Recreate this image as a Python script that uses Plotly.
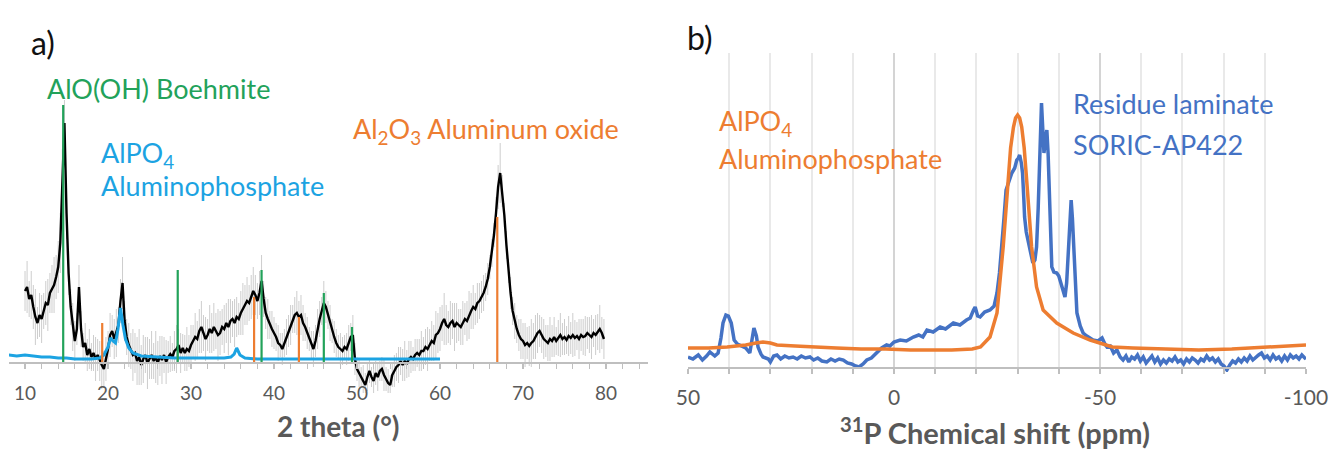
import plotly.graph_objects as go

# ---------------- Panel a) XRD (sampled every 0.25 deg from 10 deg) ----------------
XRD_START, XRD_STEP = 10.0, 0.25
xrd_intensity = [
    72, 76, 64, 68, 56, 46, 40, 48, 44, 52,
    60, 58, 70, 74, 78, 86, 96, 120, 180, 240,
    150, 90, 56, 36, 22, 34, 76, 34, 16, 20,
    8, 14, 6, 10, 4, 8, 2, -2, -6, 4,
    14, 28, 32, 24, 30, 38, 62, 80, 42, 26,
    18, 12, 8, 10, 2, 6, -2, 4, 8, 0,
    4, 8, 2, 6, 0, 7, 3, 8, 1, 6,
    9, 6, 12, 14, 18, 10, 15, 10, 14, 12,
    18, 22, 26, 24, 32, 36, 30, 24, 28, 34,
    30, 36, 32, 28, 30, 36, 34, 40, 36, 42,
    44, 40, 46, 44, 50, 54, 58, 62, 60, 66,
    72, 68, 62, 70, 82, 64, 50, 44, 38, 34,
    30, 26, 20, 18, 14, 20, 26, 32, 38, 44,
    48, 50, 46, 48, 40, 36, 30, 24, 18, 14,
    22, 34, 44, 52, 60, 56, 48, 40, 32, 26,
    20, 16, 14, 12, 16, 14, 20, 26, 28, 4,
    -6, -10, -14, -18, -22, -14, -8, -14, -18, -10,
    -14, -8, -6, -12, -16, -20, -22, -12, -8, -4,
    -2, 2, -2, 2, -1, 4, 6, 4, 8, 10,
    8, 12, 12, 16, 14, 18, 22, 20, 28, 30,
    34, 40, 44, 38, 36, 40, 42, 36, 40, 38,
    36, 40, 44, 42, 48, 52, 56, 54, 60, 62,
    66, 70, 76, 84, 96, 110, 128, 150, 176, 190,
    172, 148, 118, 92, 70, 52, 42, 34, 28, 24,
    22, 18, 20, 17, 20, 22, 26, 30, 32, 28,
    24, 22, 20, 24, 22, 26, 22, 25, 28, 24,
    26, 23, 27, 25, 28, 25, 27, 24, 28, 26,
    27, 30, 28, 26, 30, 28, 31, 34, 30, 24]
xrd_error = [
    20, 26, 18, 24, 22, 28, 16, 22, 24, 18,
    22, 26, 20, 24, 28, 22, 26, 30, 34, 28,
    26, 22, 18, 24, 20, 16, 22, 18, 14, 20,
    16, 20, 14, 18, 22, 16, 20, 24, 18, 22,
    18, 22, 16, 20, 24, 18, 22, 26, 20, 18,
    22, 18, 26, 20, 24, 28, 20, 24, 18, 26,
    20, 24, 18, 26, 22, 20, 24, 18, 22, 16,
    18, 14, 20, 24, 16, 20, 14, 18, 22, 16,
    20, 16, 24, 18, 22, 26, 18, 22, 16, 24,
    20, 24, 18, 26, 22, 18, 24, 20, 28, 22,
    18, 24, 20, 16, 22, 26, 20, 24, 18, 22,
    24, 20, 18, 22, 26, 18, 16, 20, 14, 18,
    16, 14, 18, 12, 16, 14, 18, 16, 20, 14,
    18, 22, 16, 20, 18, 14, 16, 12, 14, 18,
    16, 20, 18, 14, 22, 16, 14, 18, 12, 16,
    14, 12, 16, 14, 12, 16, 18, 14, 20, 16,
    12, 14, 10, 16, 12, 14, 12, 10, 14, 12,
    14, 10, 12, 16, 12, 14, 10, 12, 16, 14,
    18, 14, 16, 20, 14, 18, 16, 12, 16, 14,
    16, 20, 14, 18, 22, 16, 20, 18, 24, 20,
    22, 18, 26, 20, 16, 22, 18, 24, 20, 16,
    18, 22, 16, 20, 24, 18, 22, 16, 20, 18,
    16, 18, 14, 16, 12, 14, 12, 16, 22, 30,
    16, 12, 14, 12, 16, 14, 18, 14, 16, 20,
    18, 22, 16, 20, 24, 18, 22, 20, 16, 18,
    20, 16, 18, 22, 16, 20, 14, 18, 22, 16,
    18, 14, 20, 16, 22, 18, 14, 20, 16, 18,
    20, 16, 18, 22, 14, 20, 18, 24, 16, 20]

alpo4_xrd_2theta = [8, 9, 10, 11, 12, 13, 14, 15, 16, 17,
                    18, 19, 19.5, 20, 20.3, 20.6, 20.9, 21.2, 21.5, 21.8,
                    22.1, 22.5, 23, 24, 26, 28, 30, 32, 34, 34.8,
                    35.2, 35.5, 35.9, 36.5, 38, 42, 46, 50, 55, 60]
alpo4_xrd_intensity = [8, 7, 8, 7, 6, 6, 5, 5, 4, 4,
                       4, 5, 8, 16, 25, 22, 20, 34, 55, 38,
                       24, 15, 10, 7, 6, 5, 5, 5, 5, 6,
                       9, 15, 8, 5, 4, 4, 4, 4, 4, 4]

boehmite_pos = [14.6, 28.4, 38.5, 46.0, 49.4]
boehmite_height = [258, 93, 93, 70, 36]
al2o3_pos = [19.3, 37.6, 43.0, 66.9]
al2o3_height = [40, 66, 46, 146]

xrd_ticks = [10, 20, 30, 40, 50, 60, 70, 80]

# ---------------- Panel b) 31P NMR ----------------
alpo4_nmr_ppm = [50, 45, 40.5, 36, 33.5, 31.8, 30, 28.4, 24, 20,
                 14, 8, 2, -4, -8, -14, -19, -21, -23.3, -25,
                 -26.5, -27.7, -28.3, -29, -29.5, -30, -30.5, -31, -31.6, -32.2,
                 -33.4, -34.6, -36.2, -39.5, -43.5, -47.6, -53, -58, -66, -74,
                 -82, -89.6, -95, -100]
alpo4_nmr_int = [20, 20, 21, 23, 25, 26, 25, 23, 22, 21,
                 20, 19, 19, 18, 18, 18, 19, 21, 31, 55,
                 121, 188, 220, 241, 250, 253, 250, 241, 220, 188,
                 121, 81, 58, 45, 35, 28, 21, 20, 19, 18,
                 19, 21, 22, 23]

residue_ppm = [
    50, 48.8, 47.5, 46.5, 45.5, 44.7, 43.5, 42.7, 42, 41.5,
    40.8, 40.2, 39.5, 38.8, 38, 37, 36, 35, 34.5, 34,
    33.4, 33, 32.3, 31.8, 30.5, 30, 29.2, 28.4, 27.5, 26.5,
    25.5, 24.5, 23.5, 22.5, 21.5, 20.4, 19.5, 18.5, 17.5, 16.3,
    15.3, 14.3, 13.3, 12.3, 11.3, 10.3, 9.3, 8.5, 7.5, 6.6,
    5.5, 4.2, 3, 1.8, 1, 0, -1.5, -3, -4.7, -6,
    -7, -8, -9.5, -11.2, -12.5, -14.4, -16, -17.6, -18.5, -19.3,
    -19.7, -20.3, -20.9, -22, -23.3, -24.3, -25, -25.6, -26.2, -26.7,
    -27.2, -27.9, -28.6, -29.3, -29.8, -30.2, -30.5, -30.9, -31.2, -31.5,
    -31.7, -32.1, -32.5, -33.1, -33.7, -34.2, -34.6, -35, -35.2, -35.5,
    -35.8, -36.1, -36.4, -36.8, -37.1, -37.4, -37.6, -37.9, -38.3, -38.8,
    -39.5, -40, -40.3, -40.8, -41.5, -41.9, -42.3, -42.7, -43, -43.3,
    -43.7, -44, -44.4, -45.2, -45.9, -46.8, -47.5, -48.3, -49.5, -50.5,
    -51.2, -51.7, -52.5, -53.3, -54.1, -54.9,
    -55.6, -56.3, -57, -57.7, -58.4, -59.1, -59.8, -60.5, -61.2, -61.9,
    -62.6, -63.3, -64, -64.7, -65.4, -66.1, -66.8, -67.5, -68.2, -68.9,
    -69.6, -70.3, -71, -71.7, -72.4, -73.1, -73.8, -74.5, -75.2, -75.9,
    -76.6, -77.3, -78, -78.7, -79.4, -80.1, -80.8, -81.5, -82.2, -82.9,
    -83.6, -84.3, -85, -85.7, -86.4, -87.1, -87.8, -88.5, -89.2, -89.9,
    -90.6, -91.3, -92, -92.7, -93.4, -94.1, -94.8, -95.5, -96.2, -96.9,
    -97.6, -98.3, -99, -99.7, -100]
residue_int = [
    11, 9, 13, 8, 12, 16, 12, 15, 30, 45,
    53, 52, 45, 28, 24, 22, 20, 15, 28, 40,
    32, 21, 14, 11, 9, 6, 12, 13, 9, 12,
    10, 11, 9, 12, 10, 11, 8, 10, 7, 6,
    9, 7, 9, 8, 5, 4, 2, 1, 4, 8,
    10, 15, 20, 23, 22, 26, 28, 27, 31, 33,
    31, 38, 36, 41, 39, 45, 43, 48, 50, 58,
    61, 52, 51, 56, 58, 62, 75, 95, 121, 150,
    178, 188, 195, 200, 208, 210, 213, 205, 195, 170,
    151, 136, 128, 115, 105, 108, 121, 160, 188, 240,
    265, 240, 215, 230, 238, 215, 188, 140, 101, 96,
    95, 92, 88, 80, 71, 85, 115, 150, 168, 150,
    115, 85, 55, 42, 35, 32, 30, 28, 27, 30,
    24, 21, 22, 15, 18, 11,
    8, 12, 6, 11, 9, 13, 7, 11, 5, 9,
    12, 6, 10, 4, 8, 5, 9, 7, 11, 6,
    8, 4, 9, 6, 10, 8, 5, 9, 7, 12,
    8, 10, 6, 9, 4, 2, -2, 3, 7, 5,
    9, 6, 10, 7, 12, 8, 11, 13, 15, 10,
    12, 8, 13, 9, 11, 7, 12, 8, 13, 10,
    12, 9, 13, 10, 11]

nmr_ticks = [50, 0, -50, -100]
nmr_ticktext = ["50", "0", "-50", "-100"]

# ---------------- colours ----------------
GREEN = "#22A25A"
CYAN = "#1CA3E2"
ORANGE = "#ED7D31"
BLUE = "#4472C4"
GRAYTXT = "#595959"
AXIS = "#bfbfbf"
FONT = "Lato"

W, H = 1331, 450
def px(x):
    return x / W
def py(y):
    return 1 - y / H

def sticks(pos, hts):
    xs, ys = [], []
    for p, h in zip(pos, hts):
        xs += [p, p, None]
        ys += [0, h, None]
    return xs, ys

fig = go.Figure()

fig.add_trace(go.Scatter(
    x0=XRD_START, dx=XRD_STEP, y=xrd_intensity, mode="markers",
    marker=dict(size=1, color="rgba(0,0,0,0)"),
    error_y=dict(type="data", array=xrd_error, visible=True,
                 color="#cdcdcd", thickness=1, width=0),
    xaxis="x", yaxis="y", hoverinfo="skip"))
fig.add_trace(go.Scatter(
    x0=XRD_START, dx=XRD_STEP, y=xrd_intensity, mode="lines",
    line=dict(color="black", width=2.4), xaxis="x", yaxis="y"))
fig.add_trace(go.Scatter(
    x=alpo4_xrd_2theta, y=alpo4_xrd_intensity, mode="lines",
    line=dict(color=CYAN, width=3), xaxis="x", yaxis="y"))
bx, by = sticks(boehmite_pos, boehmite_height)
fig.add_trace(go.Scatter(x=bx, y=by, mode="lines",
                         line=dict(color=GREEN, width=2.2), xaxis="x", yaxis="y"))
ax_, ay_ = sticks(al2o3_pos, al2o3_height)
fig.add_trace(go.Scatter(x=ax_, y=ay_, mode="lines",
                         line=dict(color=ORANGE, width=2.2), xaxis="x", yaxis="y"))

fig.add_trace(go.Scatter(x=residue_ppm, y=residue_int, mode="lines",
                         line=dict(color=BLUE, width=3.5), xaxis="x2", yaxis="y2"))
fig.add_trace(go.Scatter(x=alpo4_nmr_ppm, y=alpo4_nmr_int, mode="lines",
                         line=dict(color=ORANGE, width=3.5), xaxis="x2", yaxis="y2"))

tickfont_a = dict(family=FONT, size=19, color=GRAYTXT)
tickfont_b = dict(family=FONT, size=21, color=GRAYTXT)

fig.update_layout(
    width=W, height=H,
    margin=dict(l=0, r=0, t=0, b=0, pad=0, autoexpand=False),
    paper_bgcolor="white", plot_bgcolor="white", showlegend=False,
    font=dict(family=FONT),
    xaxis=dict(domain=[px(9), px(648)], range=[8.07, 85.06], anchor="free",
               position=py(363), showline=True, linecolor=AXIS, linewidth=1.5,
               showgrid=False, zeroline=False, tickmode="array", tickvals=xrd_ticks,
               ticks="outside", ticklen=5, tickcolor=AXIS, tickwidth=1.5,
               minor=dict(dtick=2, tick0=0, ticks="outside", ticklen=5,
                          tickcolor=AXIS, tickwidth=1.2),
               tickfont=tickfont_a, ticklabelstandoff=8, automargin=False),
    yaxis=dict(domain=[py(393), py(100)], range=[-30, 263], visible=False),
    xaxis2=dict(domain=[px(688), px(1306)], range=[50, -100], anchor="free",
                position=py(368), showline=True, linecolor=AXIS, linewidth=2,
                showgrid=True, gridcolor="#d4d4d4", gridwidth=1.5, zeroline=False,
                tickmode="array", tickvals=nmr_ticks, ticktext=nmr_ticktext,
                ticks="outside", ticklen=5, tickcolor=AXIS, tickwidth=1.5,
                minor=dict(dtick=10, tick0=0, ticks="outside", ticklen=5,
                           tickcolor=AXIS, tickwidth=1.5, showgrid=True,
                           gridcolor="#e9e9e9", gridwidth=1.5),
                tickfont=tickfont_b, ticklabelstandoff=6, automargin=False),
    yaxis2=dict(domain=[py(372), py(53)], range=[-4, 315], visible=False),
)

def ann(text, x, y, size, color, xanchor="left", bold=False):
    fig.add_annotation(text=("<b>%s</b>" % text) if bold else text,
                       x=px(x), y=py(y), xref="paper", yref="paper",
                       xanchor=xanchor, yanchor="middle", showarrow=False,
                       borderpad=0, font=dict(family=FONT, size=size, color=color))

ann("a)", 30, 42, 32, "#111111")
ann("AlO(OH) Boehmite", 46, 88, 27, GREEN)
ann("AlPO<sub>4</sub>", 100, 154, 27, CYAN)
ann("Aluminophosphate", 100, 185, 27, CYAN)
ann("Al<sub>2</sub>O<sub>3</sub> Aluminum oxide", 352, 130, 27, ORANGE)
ann("b)", 686, 38, 32, "#111111")
ann("AlPO<sub>4</sub>", 718, 123, 27, ORANGE)
ann("Aluminophosphate", 718, 158, 27, ORANGE)
ann("Residue laminate", 1072, 104, 27, BLUE)
ann("SORIC-AP422", 1072, 145, 27, BLUE)
ann("2 theta (°)", 338, 426, 28, GRAYTXT, xanchor="center", bold=True)
ann("<sup>31</sup>P Chemical shift (ppm)", 995, 431, 29, GRAYTXT, xanchor="center", bold=True)

fig.write_html("out.html", config={"displayModeBar": False},
               post_script="document.body.style.margin='0px';")
